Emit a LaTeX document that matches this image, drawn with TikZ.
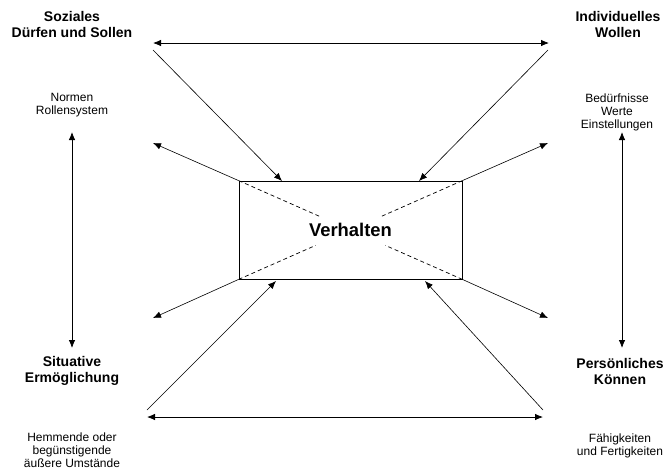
\documentclass[tikz,border=0pt]{standalone}
\usepackage{fontspec}
\setmainfont{Liberation Sans}
\usetikzlibrary{arrows.meta}
\begin{document}
\begin{tikzpicture}[x=1pt,y=-1pt,
  line width=0.8pt,
  tip/.style={-{Latex[length=8pt,width=6.5pt]}},
  bothtip/.style={{Latex[length=8pt,width=6.5pt]}-{Latex[length=8pt,width=6.5pt]}},
  heading/.style={align=center,font=\fontsize{14}{16}\selectfont\bfseries,inner sep=0pt},
  note/.style={align=center,font=\fontsize{12}{13}\selectfont,inner sep=0pt},
  gapline/.style={dashed,dash pattern=on 4pt off 3pt,line width=0.7pt}]
\useasboundingbox (0,0) rectangle (667,475);

% central box
\node[draw,minimum width=223pt,minimum height=98pt,inner sep=0pt,
      font=\fontsize{18.4}{20}\selectfont\bfseries] (box) at (350.5,230) {Verhalten};

% dashed diagonals towards the centre
\draw[gapline,shorten >=34pt] (box.north west) -- (box.center);
\draw[gapline,shorten >=34pt] (box.north east) -- (box.center);
\draw[gapline,shorten >=38pt] (box.south west) -- (box.center);
\draw[gapline,shorten >=38pt] (box.south east) -- (box.center);

% four corner labels
\node[heading] (soz) at (72,24) {Soziales\\Dürfen und Sollen};
\node[heading] (ind) at (618,24) {Individuelles\\Wollen};
\node[heading] (sit) at (72,371) {Situative\\Ermöglichung};
\node[heading] (per) at (620,371) {Persönliches\\Können};

\node[note] (norm) at (72,105) {Normen\\Rollensystem};
\node[note] (bed) at (617,112) {Bedürfnisse\\Werte\\Einstellungen};
\node[note] (hem) at (72,450) {Hemmende oder\\begünstigende\\äußere Umstände};
\node[note] (fae) at (620,446) {Fähigkeiten\\und Fertigkeiten};

% arrow end points
\coordinate (htl) at (153,43);  \coordinate (htr) at (549,43);
\coordinate (hbl) at (147,417); \coordinate (hbr) at (543,417);
\coordinate (vlt) at (72,132);  \coordinate (vlb) at (72,348);
\coordinate (vrt) at (622,132); \coordinate (vrb) at (622,348);
\coordinate (dtl) at (153,50);  \coordinate (dtr) at (548,50);
\coordinate (dbl) at (147,410); \coordinate (dbr) at (543,410);
\coordinate (itl) at (282,181); \coordinate (itr) at (419,181);
\coordinate (ibl) at (276,281); \coordinate (ibr) at (425,281);
\coordinate (otl) at (153,143); \coordinate (otr) at (548,143);
\coordinate (obl) at (153,318); \coordinate (obr) at (548,318);

% frame of double arrows
\draw[bothtip] (htl) -- (htr);
\draw[bothtip] (hbl) -- (hbr);
\draw[bothtip] (vlt) -- (vlb);
\draw[bothtip] (vrt) -- (vrb);

% influences on the box
\draw[tip,line width=0.6pt] (dtl) -- (itl);
\draw[tip,line width=0.6pt] (dtr) -- (itr);
\draw[tip,line width=0.6pt] (dbl) -- (ibl);
\draw[tip,line width=0.6pt] (dbr) -- (ibr);

% effects leaving the box corners
\draw[tip,line width=0.6pt] (box.north west) -- (otl);
\draw[tip,line width=0.6pt] (box.north east) -- (otr);
\draw[tip,line width=0.6pt] (box.south west) -- (obl);
\draw[tip,line width=0.6pt] (box.south east) -- (obr);
\end{tikzpicture}
\end{document}
